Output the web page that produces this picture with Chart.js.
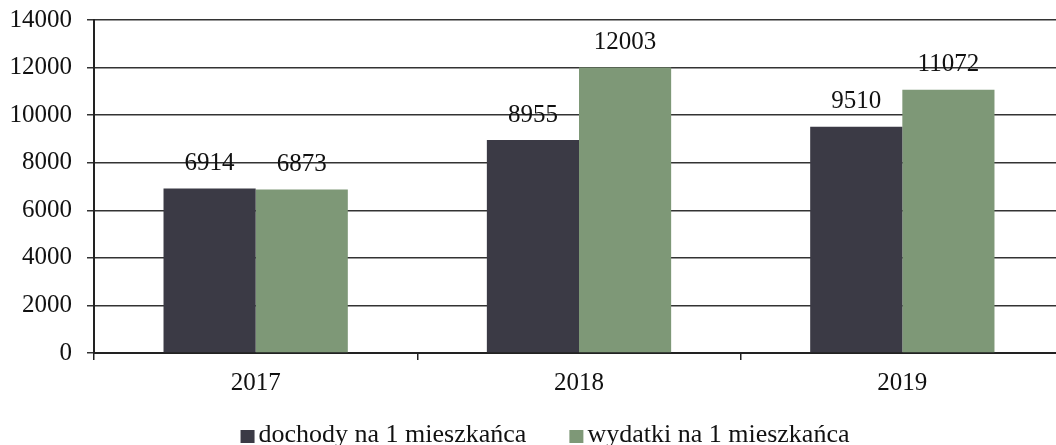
<!DOCTYPE html>
<html><head><meta charset="utf-8">
<script src="https://cdn.jsdelivr.net/npm/chart.js@4/dist/chart.umd.min.js"></script>
<style>html,body{margin:0;padding:0;background:#fff;overflow:hidden;width:1056px;height:445px}#wrap{width:1064px;height:445px}</style>
</head><body><div id="wrap"><canvas id="c" width="1064" height="445"></canvas></div>
<script>
const categories = ['2017', '2018', '2019'];
const dochody = [6914, 8955, 9510];
const wydatki = [6873, 12003, 11072];
const seriesNames = ['dochody na 1 mieszkańca', 'wydatki na 1 mieszkańca'];
const yTicks = [0, 2000, 4000, 6000, 8000, 10000, 12000, 14000];

const FONT = '"Liberation Serif", "Times New Roman", serif';

const valueLabels = {
  id: 'valueLabels',
  afterDatasetsDraw(chart) {
    const ctx = chart.ctx;
    ctx.save();
    ctx.font = '25px ' + FONT;
    ctx.fillStyle = '#111';
    ctx.textAlign = 'center';
    ctx.textBaseline = 'middle';
    chart.data.datasets.forEach((ds, i) => {
      chart.getDatasetMeta(i).data.forEach((el, j) => {
        ctx.fillText(String(ds.data[j]), el.x, el.y - 25);
      });
    });
    ctx.restore();
  }
};

const bottomLegend = {
  id: 'bottomLegend',
  afterDraw(chart) {
    const ctx = chart.ctx;
    ctx.save();
    ctx.font = '26px ' + FONT;
    ctx.textBaseline = 'alphabetic';
    ctx.textAlign = 'left';
    const box = 14, gapBox = 4, gapItem = 43;
    const items = chart.data.datasets.map(ds => ({ text: ds.label, color: ds.backgroundColor, w: ctx.measureText(ds.label).width }));
    let total = 0;
    items.forEach((it, i) => { total += box + gapBox + it.w + (i ? gapItem : 0); });
    let x = 545 - total / 2;
    const base = 442;
    items.forEach((it, i) => {
      if (i) x += gapItem;
      ctx.fillStyle = it.color;
      ctx.fillRect(x, base - 12, box, box - 1);
      x += box + gapBox;
      ctx.fillStyle = '#111';
      ctx.fillText(it.text, x, base);
      x += it.w;
    });
    ctx.restore();
  }
};

new Chart(document.getElementById('c'), {
  type: 'bar',
  data: {
    labels: categories,
    datasets: [
      { label: seriesNames[0], data: dochody, backgroundColor: '#3b3a45', categoryPercentage: 0.57, barPercentage: 1.0 },
      { label: seriesNames[1], data: wydatki, backgroundColor: '#7e9877', categoryPercentage: 0.57, barPercentage: 1.0 }
    ]
  },
  options: {
    responsive: false,
    animation: false,
    devicePixelRatio: 1,
    layout: { padding: { top: 20, right: 0, left: 0, bottom: 0 } },
    plugins: {
      legend: { display: false },
      tooltip: { enabled: false }
    },
    scales: {
      x: {
        grid: { display: true, drawOnChartArea: false, drawTicks: true, tickLength: 7, color: '#222', lineWidth: 1.5, offset: true },
        border: { display: true, color: '#222', width: 2 },
        ticks: { font: { family: FONT, size: 25 }, color: '#111', padding: 8 },
        afterFit(s) { s.height = 92; s.paddingLeft = 0; s.paddingRight = 0; }
      },
      y: {
        min: 0, max: 14000,
        afterBuildTicks(s) { s.ticks = yTicks.map(v => ({ value: v })); },
        grid: { color: '#333', lineWidth: 1.5, drawTicks: true, tickLength: 7 },
        border: { display: true, color: '#222', width: 2 },
        ticks: { font: { family: FONT, size: 25 }, color: '#111', padding: 15, callback: v => String(v) },
        afterFit(s) { s.width = 94; s.paddingTop = 0; s.paddingBottom = 0; }
      }
    }
  },
  plugins: [valueLabels, bottomLegend]
});
</script>
</body></html>
